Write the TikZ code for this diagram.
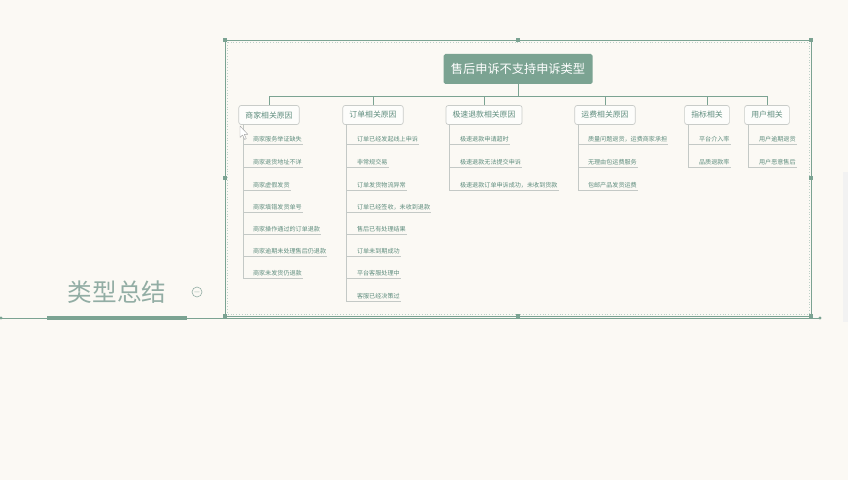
\documentclass[tikz,border=0pt]{standalone}
\usepackage{fontspec}
\newfontfamily\cjk{Noto Sans CJK SC}
\usepackage{xcolor}
\usetikzlibrary{positioning,calc}

\definecolor{paper}{HTML}{FBF9F4}
\definecolor{sage}{HTML}{7BA392}
\definecolor{sagetext}{HTML}{5F8D7E}
\definecolor{boxline}{HTML}{C9CCC9}
\definecolor{twig}{HTML}{C4C9C6}
\definecolor{summary}{HTML}{92ADA4}

\begin{document}
\begin{tikzpicture}[x=0.03cm, y=-0.03cm,
    root/.style={rectangle, fill=sage, text=white, rounded corners=1.5pt, minimum width=4.47cm, minimum height=0.9cm, inner sep=0, font=\cjk\fontsize{10.4}{12}\selectfont},
    cat/.style={rectangle, draw=boxline, fill=white!60!paper, line width=0.6pt, rounded corners=2pt, text=sagetext, minimum height=0.57cm, inner xsep=0.2cm, inner ysep=0, font=\cjk\fontsize{6.7}{8}\selectfont},
    item/.style={anchor=south west, text=sagetext, inner xsep=0.7pt, inner ysep=1.3pt, font=\cjk\fontsize{5.2}{6}\selectfont},
    stem/.style={draw=sage, line width=0.8pt},
    twig/.style={draw=twig, line width=0.6pt},
    handle/.style={rectangle, fill=sage, minimum size=0.1cm, inner sep=0}]

    \useasboundingbox (0,0) rectangle (848,480);
    \fill[paper] (0,0) rectangle (848,480);
    \fill[gray!10] (843,172) rectangle (848,322);

    % Selection frame with handles
    \draw[sage, line width=0.6pt] (225,40) rectangle (811,316);
    \draw[sage!50, line width=0.4pt, dotted] (227,42) rectangle (809,314);
    \node[handle] (h1) at (225,40) {};
    \node[handle] (h2) at (518,40) {};
    \node[handle] (h3) at (811,40) {};
    \node[handle] (h4) at (225,178) {};
    \node[handle] (h5) at (811,178) {};
    \node[handle] (h6) at (225,316) {};
    \node[handle] (h7) at (518,316) {};
    \node[handle] (h8) at (811,316) {};

    % Summary topic on the left
    \node[text=summary, font=\cjk\fontsize{21}{24}\selectfont] (summary) at (117,292) {类型总结};
    \node[circle, draw=summary, line width=0.5pt, minimum size=0.3cm, inner sep=0, text=summary, font=\fontsize{7}{7}\selectfont] (fold) at (197,292) {$-$};
    \coordinate (lineL) at (1,318);
    \coordinate (lineR) at (820,318);
    \draw[sage, line width=0.6pt] (lineL) -- (lineR);
    \fill[sage] (lineL) circle (1.6);
    \fill[sage] (lineR) circle (1.6);
    \coordinate (barL) at (47,318);
    \coordinate (barR) at (187,318);
    \draw[sage, line width=2.6pt] (barL) -- (barR);

    % Root and categories
    \node[root] (root) at (518,69) {售后申诉不支持申诉类型};
    \coordinate (hub) at (518,96);

    \node[cat] (cat1) at (269,115) {商家相关原因};
    \node[cat] (cat2) at (373,115) {订单相关原因};
    \node[cat] (cat3) at (484,115) {极速退款相关原因};
    \node[cat] (cat4) at (605,115) {运费相关原因};
    \node[cat] (cat5) at (707,115) {指标相关};
    \node[cat] (cat6) at (767,115) {用户相关};

    \draw[stem] (root) -- (hub);
    \draw[stem] (hub) -| (cat1);
    \draw[stem] (hub) -| (cat2);
    \draw[stem] (hub) -| (cat3);
    \draw[stem] (hub) -| (cat4);
    \draw[stem] (hub) -| (cat5);
    \draw[stem] (hub) -| (cat6);

    % Trunks under each category
    \coordinate (t1) at ($(cat1.south west)+(5,0)$);
    \coordinate (t2) at ($(cat2.south west)+(4,0)$);
    \coordinate (t3) at ($(cat3.south west)+(4,0)$);
    \coordinate (t4) at ($(cat4.south west)+(4,0)$);
    \coordinate (t5) at ($(cat5.south west)+(4,0)$);
    \coordinate (t6) at ($(cat6.south west)+(4,0)$);

    % Merchant reasons
    \node[item] (a1) at (252,144) {商家服务举证缺失};
    \node[item] (a2) at (252,167) {商家退货地址不详};
    \node[item] (a3) at (252,190) {商家虚假发货};
    \node[item] (a4) at (252,212) {商家填错发货单号};
    \node[item] (a5) at (252,234) {商家操作通过的订单退款};
    \node[item] (a6) at (252,256) {商家逾期未处理售后仍退款};
    \node[item] (a7) at (252,278) {商家未发货仍退款};

    % Order reasons
    \node[item] (b1) at (356,144) {订单已经发起线上申诉};
    \node[item] (b2) at (356,167) {非常规交易};
    \node[item] (b3) at (356,190) {订单发货物流异常};
    \node[item] (b4) at (356,212) {订单已经签收，未收到退款};
    \node[item] (b5) at (356,234) {售后已有处理结果};
    \node[item] (b6) at (356,256) {订单未到期成功};
    \node[item] (b7) at (356,278) {平台客服处理中};
    \node[item] (b8) at (356,301) {客服已经决策过};

    % Fast refund reasons
    \node[item] (c1) at (459,144) {极速退款申请超时};
    \node[item] (c2) at (459,167) {极速退款无法提交申诉};
    \node[item] (c3) at (459,190) {极速退款订单申诉成功，未收到货款};

    % Shipping fee reasons
    \node[item] (d1) at (587,144) {质量问题退货，运费商家承担};
    \node[item] (d2) at (587,167) {无理由包运费服务};
    \node[item] (d3) at (587,190) {包邮产品发货运费};

    % Metrics
    \node[item] (e1) at (698,144) {平台介入率};
    \node[item] (e2) at (698,167) {品质退款率};

    % Users
    \node[item] (f1) at (758,144) {用户逾期退货};
    \node[item] (f2) at (758,167) {用户恶意售后};

    \foreach \k in {1,...,7} {\draw[twig] (t1) |- (a\k.south east);}
    \foreach \k in {1,...,8} {\draw[twig] (t2) |- (b\k.south east);}
    \foreach \k in {1,2,3} {\draw[twig] (t3) |- (c\k.south east);}
    \foreach \k in {1,2,3} {\draw[twig] (t4) |- (d\k.south east);}
    \foreach \k in {1,2} {\draw[twig] (t5) |- (e\k.south east);}
    \foreach \k in {1,2} {\draw[twig] (t6) |- (f\k.south east);}

    % Mouse pointer
    \draw[gray!70, fill=white, line width=0.4pt, line join=round] (240,126) -- (240,137.5) -- (242.6,135) -- (244.6,139.5) -- (246.3,138.7) -- (244.3,134.3) -- (247.8,134.3) -- cycle;

\end{tikzpicture}
\end{document}
